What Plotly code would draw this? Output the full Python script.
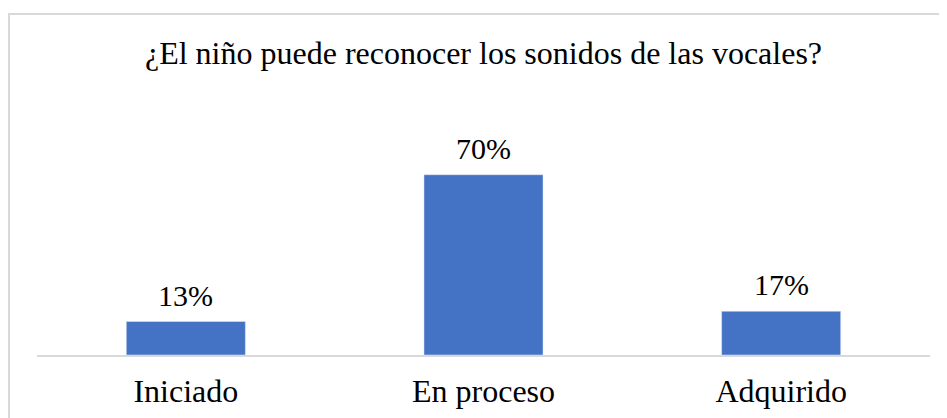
import plotly.graph_objects as go

categorias = ['Iniciado', 'En proceso', 'Adquirido']
porcentajes = [13, 70, 17]
etiquetas = ['13%', '70%', '17%']

# the page body adds an 8px offset, so positions below are shifted by -8
W, H = 947, 418
ml, mr, mt, mb = 29, 25, 141, 71
pw = W - ml - mr
ph = H - mt - mb

fig = go.Figure()
fig.add_trace(go.Bar(
    x=categorias, y=porcentajes,
    marker_color='#4472C4',
    hoverinfo='skip'
))

for cat, val, lab in zip(categorias, porcentajes, etiquetas):
    fig.add_annotation(x=cat, y=val, text=lab, showarrow=False,
                       yanchor='bottom', yshift=8,
                       font=dict(size=30, color='black'))

fig.update_layout(
    width=W, height=H,
    margin=dict(l=ml, r=mr, t=mt, b=mb),
    paper_bgcolor='white', plot_bgcolor='white',
    font=dict(family='Liberation Serif, Times New Roman, serif', size=30, color='black'),
    title=dict(text='¿El niño puede reconocer los sonidos de las vocales?',
               x=0.5, xanchor='center', xref='paper',
               y=1 - 45 / H, yanchor='middle', yref='container',
               font=dict(size=32, color='black')),
    bargap=0.6,
    showlegend=False,
    shapes=[dict(type='rect', xref='paper', yref='paper',
                 x0=(1 - ml) / pw, x1=(W + 20 - ml) / pw,
                 y0=-(H + 20 - mt - ph) / ph, y1=1 + (mt - 6) / ph,
                 line=dict(color='#d9d9d9', width=2), layer='below')]
)
fig.update_xaxes(showline=True, linecolor='#d9d9d9', linewidth=2,
                 ticks='', tickfont=dict(size=32), ticklabelstandoff=7,
                 showgrid=False)
fig.update_yaxes(range=[0, 80], visible=False, showgrid=False, zeroline=False)

fig.write_html('out.html')
